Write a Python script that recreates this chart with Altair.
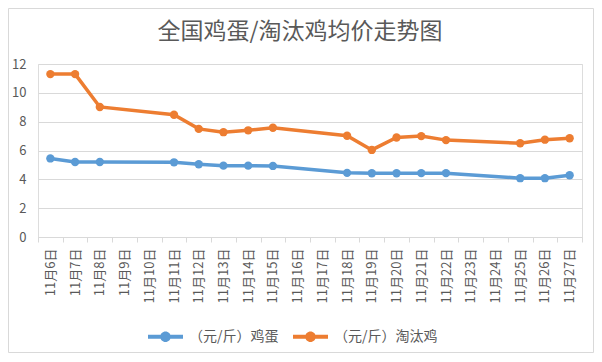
import altair as alt
import pandas as pd

categories = ["11月6日", "11月7日", "11月8日", "11月9日", "11月10日", "11月11日",
              "11月12日", "11月13日", "11月14日", "11月15日", "11月16日", "11月17日",
              "11月18日", "11月19日", "11月20日", "11月21日", "11月22日", "11月23日",
              "11月24日", "11月25日", "11月26日", "11月27日"]
dates = ["11月6日", "11月7日", "11月8日", "11月11日", "11月12日", "11月13日", "11月14日",
         "11月15日", "11月18日", "11月19日", "11月20日", "11月21日", "11月22日",
         "11月25日", "11月26日", "11月27日"]
egg = [5.45, 5.2, 5.2, 5.18, 5.05, 4.95, 4.95, 4.93, 4.45, 4.42, 4.42, 4.43, 4.43, 4.08, 4.08, 4.28]
hen = [11.3, 11.3, 9.02, 8.48, 7.5, 7.27, 7.4, 7.58, 7.02, 6.04, 6.9, 7.0, 6.72, 6.5, 6.75, 6.85]
series_names = ["（元/斤）鸡蛋", "（元/斤）淘汰鸡"]
colors = ["#5B9BD5", "#ED7D31"]

FONT = "Noto Sans CJK SC"
GREY = "#595959"

rows = []
for name, vals in zip(series_names, [egg, hen]):
    for d, v in zip(dates, vals):
        rows.append({"date": d, "series": name, "value": v, "idx": categories.index(d)})
df = pd.DataFrame(rows)

x = alt.X("date:N", title=None,
          scale=alt.Scale(type="band", domain=categories, paddingInner=0, paddingOuter=0),
          axis=alt.Axis(labelAngle=270, labelAlign="right", labelBaseline="middle",
                        labelFont=FONT, labelFontSize=13, labelColor=GREY, labelPadding=6,
                        domainColor="#d9d9d9", tickColor="#d9d9d9", tickSize=5,
                        tickBand="extent", grid=False))
y = alt.Y("value:Q", title=None,
          scale=alt.Scale(domain=[0, 12], nice=False),
          axis=alt.Axis(values=[0, 2, 4, 6, 8, 10, 12], domain=False, ticks=False,
                        gridColor="#d9d9d9", labelFont=FONT, labelFontSize=13,
                        labelColor=GREY, labelPadding=12))
color = alt.Color("series:N",
                  scale=alt.Scale(domain=series_names, range=colors),
                  legend=alt.Legend(title=None, orient="none", direction="horizontal",
                                    legendX=110, legendY=255, padding=0,
                                    symbolType="M-1,-0.11H1V0.11H-1Z M-0.3,0A0.3,0.3 0 1,1 0.3,0A0.3,0.3 0 1,1 -0.3,0Z",
                                    symbolSize=1225, symbolStrokeWidth=0, symbolOpacity=1,
                                    labelFont=FONT, labelFontSize=14, labelColor=GREY,
                                    labelOffset=6, columnPadding=14))

frame = alt.Chart(alt.Data(values=[{}])).mark_rect(
    fill=None, stroke="#d9d9d9", strokeWidth=1
).encode(x=alt.value(-29.5), x2=alt.value(555.5), y=alt.value(-55.5), y2=alt.value(288.5))

points = alt.Chart(df).mark_point(filled=True, size=70, opacity=1).encode(x=x, y=y, color=color)
lines = alt.Chart(df).mark_line(strokeWidth=3.5).encode(
    x=x, y=y, color=color, order=alt.Order("idx:Q"))

chart = alt.layer(frame, points, lines).properties(
    width=544, height=173,
    autosize=alt.AutoSizeParams(type="none"),
    padding={"left": 30, "top": 56, "right": 12, "bottom": 116},
    title=alt.TitleParams("全国鸡蛋/淘汰鸡均价走势图", font=FONT, fontSize=23,
                          fontWeight="normal", color=GREY, anchor="middle",
                          offset=-36, dx=-10),
).configure_view(stroke=None).configure(background="white")

chart.save("out.html", embed_options={"renderer": "svg", "actions": False})
